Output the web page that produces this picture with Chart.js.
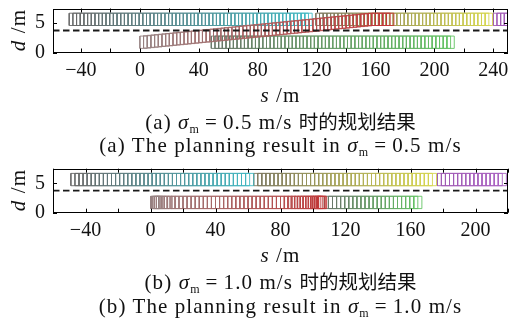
<!DOCTYPE html>
<html>
<head>
<meta charset="utf-8">
<script src="https://cdn.jsdelivr.net/npm/chart.js@4.4.1/dist/chart.umd.min.js"></script>
<style>
  body { margin: 0; width: 510px; height: 323px; background: #fff; position: relative; overflow: hidden;
         font-family: 'Liberation Serif', 'Noto Sans CJK SC', serif; color: #111; }
  canvas { position: absolute; left: 0; }
  .txt { position: absolute; left: 0; width: 561px; text-align: center; font-size: 21px; line-height: 24px;
         letter-spacing: 1.1px; white-space: nowrap; }
  .ylab { position: absolute; left: -22px; width: 80px; text-align: center; font-size: 21px; line-height: 24px;
          letter-spacing: 1.1px; white-space: nowrap; transform: rotate(-90deg); }
  .sub { font-size: 12px; position: relative; top: 4px; }
  .eq { margin: 0 5px; }
  .cjk { font-family: 'Noto Sans CJK SC'; font-size: 19.5px; letter-spacing: 0; }
</style>
</head>
<body>
<canvas id="chartA" width="510" height="84" style="top:0"></canvas>
<canvas id="chartB" width="510" height="84" style="top:160px"></canvas>

<div class="ylab" style="top:18px"><i>d</i> /m</div>
<div class="txt" style="top:83px"><i>s</i> /m</div>
<div class="txt" style="top:109px">(a) <i>σ</i><span class="sub">m</span><span class="eq">=</span>0.5 m/s <span class="cjk">时的规划结果</span></div>
<div class="txt" style="top:133px">(a) The planning result in <i>σ</i><span class="sub">m</span><span class="eq">=</span>0.5 m/s</div>

<div class="ylab" style="top:178px"><i>d</i> /m</div>
<div class="txt" style="top:243px"><i>s</i> /m</div>
<div class="txt" style="top:269px">(b) <i>σ</i><span class="sub">m</span><span class="eq">=</span>1.0 m/s <span class="cjk">时的规划结果</span></div>
<div class="txt" style="top:294px">(b) The planning result in <i>σ</i><span class="sub">m</span><span class="eq">=</span>1.0 m/s</div>

<script>
// 车道与车辆尺寸 (m)
const laneLine = 3.75
const upperD = 5.65
const lowerD = 1.75
const carLen = 5
const carWid = 2.1

// 坐标范围与刻度
const xRangeA = [-59, 250]
const xRangeB = [-60, 220]
const yRange = [0, 7.5]
const xTickStep = 20
const xLabelStep = 40
const yTicks = [0, 5]

// (a) σm = 0.5 m/s : 各车每一时刻的车尾位置 s
const a_cyan = [-48,-45.5,-43,-40.5,-38,-35.5,-33,-30.5,-28,-25.5,-23,-20.5,-18,-15.5,-13,-10.5,-8,-5.5,-3,-0.5,
  2,4.5,7,9.5,12,14.5,17,19.5,22,24.5,27,29.5,32,34.5,37,39.5,42,44.5,47,49.5,52,54.5,57,59.5,62,64.5,
  67,69.5,72,74.5,77,79.5,82,84.5,87,89.5,92,94.5,97,99.5,102,104.5,107,109.5,112]
const a_olive = [119.5,122,124.5,127,129.5,132,134.5,137,139.5,142,144.5,147,149.5,152,154.5,157,159.5,162,
  164.5,167,169.5,172,174.5,177,179.5,182,184.5,187,189.5,192,194.5,197,199.5,202,204.5,207,209.5,212,
  214.5,217,219.5,222,224.5,227,229.5,232,234.5]
const a_purple = [240, 242.5, 245, 247.5, 250]
const a_green = [48.5,51,53.5,56,58.5,61,63.5,66,68.5,71,73.5,76,78.5,81,83.5,86,88.5,91,93.5,96,98.5,101,
  103.5,106,108.5,111,113.5,116,118.5,121,123.5,126,128.5,131,133.5,136,138.5,141,143.5,146,148.5,151,
  153.5,156,158.5,161,163.5,166,168.5,171,173.5,176,178.5,181,183.5,186,188.5,191,193.5,196,198.5,201,
  203.5,206,208.5]
// 自车 (换道)
const a_ego_s = [0,2.5,5,7.5,10,12.5,15,17.5,20,22.5,25,27.5,30,32.5,35,37.5,40,42.5,45,47.5,50,52.5,55,57.5,
  60,62.5,65,67.5,70,72.5,75,77.5,80,82.5,85,87.5,90,92.5,95,97.5,100,102.5,105,107.5,110,112.5,115,117.5,
  120,122.5,125,127.5,130,132.5,135,137.5,140,142.5,145,147.5,150,152.5,155,157.5,160,162.5,165,167.5]
const a_ego_d = [1.75,1.81,1.88,1.94,2.00,2.07,2.13,2.19,2.25,2.32,2.38,2.44,2.50,2.57,2.63,2.69,2.76,2.82,
  2.88,2.95,3.01,3.07,3.13,3.20,3.26,3.32,3.39,3.45,3.51,3.58,3.64,3.70,3.76,3.83,3.89,3.95,4.02,4.08,
  4.14,4.21,4.27,4.33,4.39,4.46,4.52,4.58,4.65,4.71,4.77,4.84,4.90,4.96,5.03,5.09,5.15,5.21,5.28,5.34,
  5.40,5.47,5.53,5.59,5.65,5.65,5.65,5.65,5.65,5.65]

// (b) σm = 1.0 m/s
const b_cyan = [-49,-46.5,-44,-41.5,-39,-36.5,-34,-31.5,-29,-26.5,-24,-21.5,-19,-16.5,-14,-11.5,-9,-6.5,-4,-1.5,
  1,3.5,6,8.5,11,13.5,16,18.5,21,23.5,26,28.5,31,33.5,36,38.5,41,43.5,46,48.5,51,53.5,56,58.5]
const b_olive = [63.5,66,68.5,71,73.5,76,78.5,81,83.5,86,88.5,91,93.5,96,98.5,101,103.5,106,108.5,111,113.5,
  116,118.5,121,123.5,126,128.5,131,133.5,136,138.5,141,143.5,146,148.5,151,153.5,156,158.5,161,163.5,
  166,168.5,171]
const b_purple = [176.5,179,181.5,184,186.5,189,191.5,194,196.5,199,201.5,204,206.5,209,211.5,214]
const b_green = [107,109.5,112,114.5,117,119.5,122,124.5,127,129.5,132,134.5,137,139.5,142,144.5,147,149.5,
  152,154.5,157,159.5,162]
const b_ego = [0,0.6,1.4,2.4,3.6,5,6.6,8.4,10.4,12.6,15,17.5,20,22.5,25,27.5,30,32.5,35,37.5,40,42.5,45,47.5,
  50,52.5,55,57.5,60,62.5,65,67.5,70,72.5,75,77.5,80,82.3,84.5,86.6,88.6,90.5,92.3,94,95.6,97.1,98.5,99.8,
  101,102,102.8,103.4]

// 颜色: 起始 (早期时刻) -> 终止 (末时刻)
const colors = {
  cyan:   [[105, 105, 105], [65, 185, 195]],
  olive:  [[125, 120, 95], [215, 215, 80]],
  purple: [[160, 90, 180], [170, 100, 195]],
  red:    [[150, 130, 130], [195, 55, 55]],
  green:  [[105, 120, 105], [100, 195, 100]]
}

function mix(c0, c1, t) {
  return c0.map((v, k) => Math.round(v + (c1[k] - v) * t))
}

// 每个时刻画一个车辆矩形
function vehicle(sList, d, colorName) {
  const [c0, c1] = colors[colorName]
  const n = sList.length
  return sList.map((s, i) => {
    const dc = Array.isArray(d) ? d[i] : d
    const lo = dc - carWid / 2, hi = dc + carWid / 2
    const c = mix(c0, c1, n > 1 ? i / (n - 1) : 1)
    return {
      data: [{ x: s, y: lo }, { x: s + carLen, y: lo }, { x: s + carLen, y: hi }, { x: s, y: hi }, { x: s, y: lo }],
      borderColor: `rgba(${c.join(',')},0.9)`,
      borderWidth: 1,
      showLine: true,
      pointRadius: 0,
      fill: false,
      clip: 0
    }
  })
}

function laneDash(range) {
  return {
    data: [{ x: range[0], y: laneLine }, { x: range[1], y: laneLine }],
    borderColor: '#1a1a1a',
    borderWidth: 1.8,
    borderDash: [6.5, 3.5],
    showLine: true,
    pointRadius: 0,
    clip: 0
  }
}

// 边框和朝内的刻度线
const frameTicks = {
  id: 'frameTicks',
  afterDatasetsDraw(chart) {
    const { ctx, chartArea: a, scales: { x, y } } = chart
    ctx.save()
    ctx.strokeStyle = '#000'
    ctx.lineWidth = 1
    ctx.beginPath()
    x.ticks.forEach(t => {
      const px = Math.round(x.getPixelForValue(t.value)) + 0.5
      ctx.moveTo(px, a.bottom); ctx.lineTo(px, a.bottom - 4)
      ctx.moveTo(px, a.top); ctx.lineTo(px, a.top + 4)
    })
    y.ticks.forEach(t => {
      const py = Math.round(y.getPixelForValue(t.value)) + 0.5
      ctx.moveTo(a.left, py); ctx.lineTo(a.left + 4, py)
      ctx.moveTo(a.right, py); ctx.lineTo(a.right - 4, py)
    })
    ctx.stroke()
    ctx.strokeRect(Math.round(a.left) + 0.5, Math.round(a.top) + 0.5,
      Math.round(a.width) - 1, Math.round(a.height) - 1)
    ctx.restore()
  }
}

const tickFont = { family: "'Liberation Serif', serif", size: 20 }

function makeChart(id, xRange, datasets, padTop) {
  return new Chart(document.getElementById(id), {
    type: 'scatter',
    data: { datasets },
    options: {
      responsive: false,
      animation: false,
      events: [],
      layout: { padding: { top: padTop, right: 2, left: 0, bottom: 0 } },
      plugins: { legend: { display: false }, tooltip: { enabled: false } },
      scales: {
        x: {
          min: xRange[0], max: xRange[1],
          afterBuildTicks: s => { s.ticks = s.ticks.filter(t => t.value % xTickStep === 0) },
          afterFit: s => {
            s.height = 84 - 52.5 - padTop + 8.5
            s.paddingLeft = 0; s.paddingRight = 0
          },
          grid: { display: false, drawTicks: false },
          border: { display: false },
          ticks: {
            stepSize: xTickStep, includeBounds: false, maxRotation: 0, autoSkip: false, padding: 6,
            color: '#111', font: tickFont,
            callback: v => v % xLabelStep === 0 ? (v < 0 ? '\u2212' + Math.abs(v) : String(v)) : ''
          }
        },
        y: {
          min: yRange[0], max: yRange[1],
          afterBuildTicks: s => { s.ticks = yTicks.map(v => ({ value: v })) },
          afterFit: s => {
            s.width = 53
            s.paddingTop = 0; s.paddingBottom = 0
          },
          grid: { display: false, drawTicks: false },
          border: { display: false },
          ticks: { padding: 8, color: '#111', font: tickFont }
        }
      }
    },
    plugins: [frameTicks]
  })
}

makeChart('chartA', xRangeA, [
  laneDash(xRangeA),
  ...vehicle(a_ego_s, a_ego_d, 'red'),
  ...vehicle(a_cyan, upperD, 'cyan'),
  ...vehicle(a_olive, upperD, 'olive'),
  ...vehicle(a_purple, upperD, 'purple'),
  ...vehicle(a_green, lowerD, 'green')
], 8.5)

makeChart('chartB', xRangeB, [
  laneDash(xRangeB),
  ...vehicle(b_ego, lowerD, 'red'),
  ...vehicle(b_cyan, upperD, 'cyan'),
  ...vehicle(b_olive, upperD, 'olive'),
  ...vehicle(b_purple, upperD, 'purple'),
  ...vehicle(b_green, lowerD, 'green')
], 8.7)
</script>
</body>
</html>
